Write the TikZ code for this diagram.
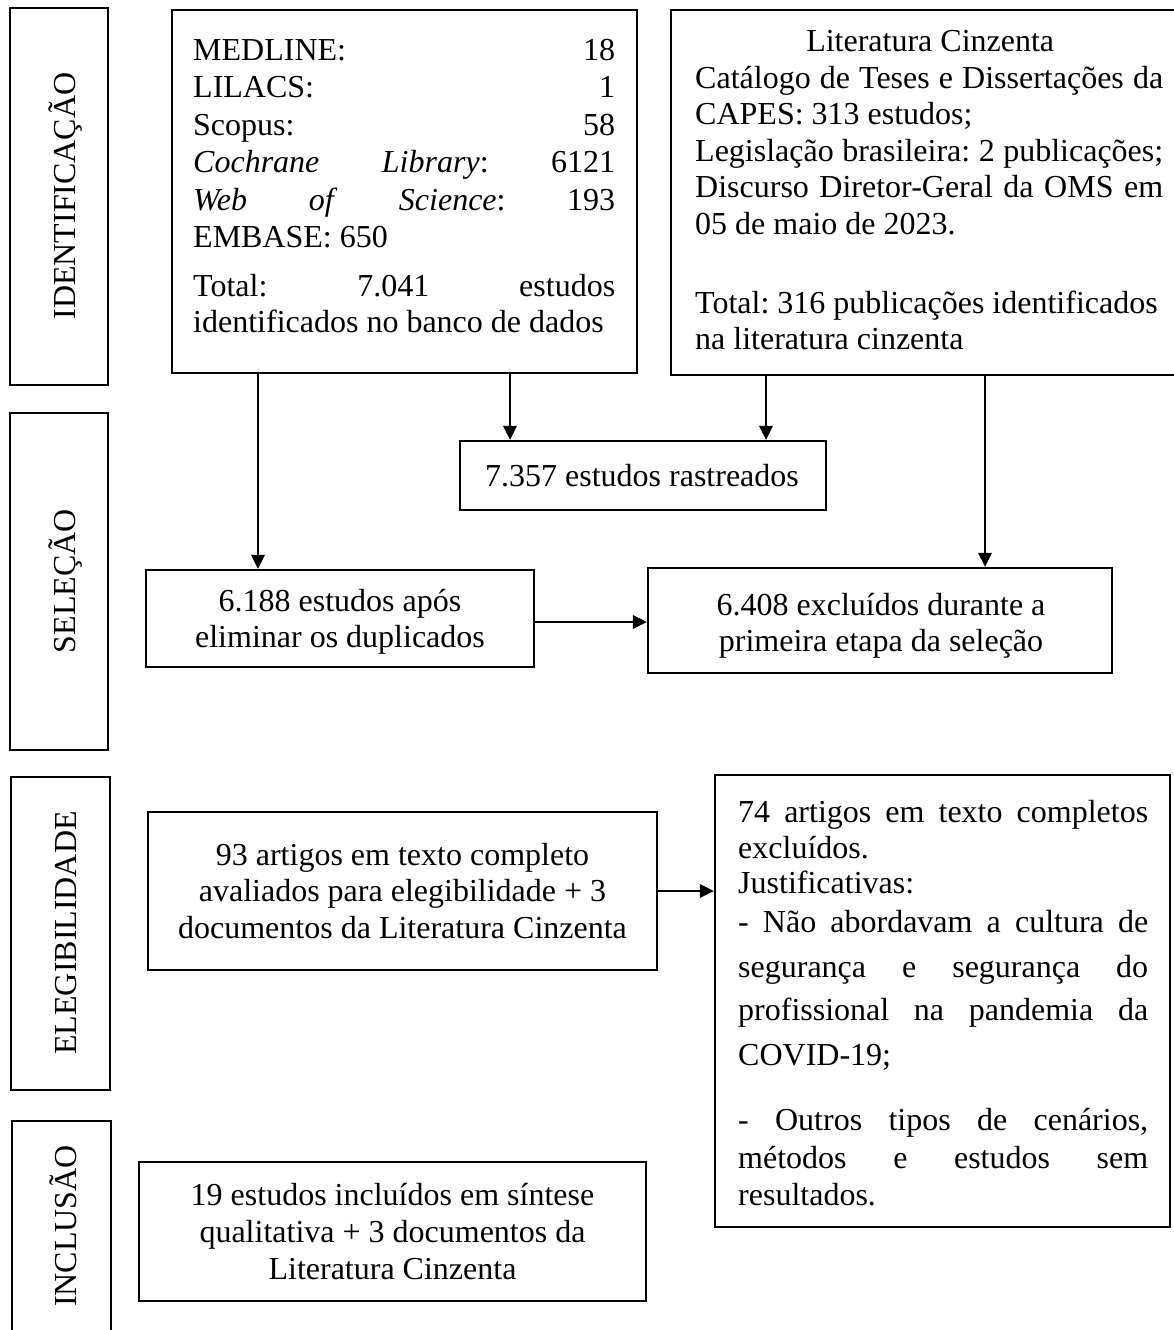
\documentclass[tikz,border=0pt]{standalone}
\usepackage{fontspec}
\setmainfont{Liberation Serif}
\usetikzlibrary{arrows.meta,calc}
\frenchspacing
\newcommand{\jline}[2]{\makebox[#1][s]{\spaceskip=0.25em plus 1fil\xspaceskip=0.25em plus 1fil\relax #2}}
\begin{document}
\begin{tikzpicture}[x=1pt,y=-1pt,
  box/.style={draw, line width=2.1pt, inner sep=0pt, rectangle},
  arr/.style={line width=2.8pt, -{Triangle[length=14pt,width=13pt]}},
  txt/.style={inner sep=0pt, font=\fontsize{32}{37.5}\selectfont},
  ctxt/.style={txt, anchor=base, text width=520pt, align=flush center},
  ltxt/.style={txt, anchor=base west, align=flush left},
  lab/.style={inner sep=0pt, font=\fontsize{32}{37.5}\selectfont, rotate=90, anchor=base}]
\useasboundingbox (0,0) rectangle (1174,1330);

% stage boxes
\node[box, minimum width=98pt, minimum height=377pt] (sid) at (59,196.5) {};
\node[box, minimum width=98pt, minimum height=337pt] (ssel) at (59,581.5) {};
\node[box, minimum width=99pt, minimum height=313pt] (seleg) at (60.5,933.5) {};
\node[box, minimum width=99pt, minimum height=220pt] (sinc) at (61.5,1231) {};
\node[lab] (lid) at (75,196) {IDENTIFICAÇÃO};
\node[lab] (lsel) at (75,581) {SELEÇÃO};
\node[lab] (leleg) at (76,933) {ELEGIBILIDADE};
\node[lab] (linc) at (76,1226) {INCLUSÃO};

% flow boxes
\node[box, minimum width=465pt, minimum height=363pt] (db) at (404.5,191.5) {};
\node[box, minimum width=510pt, minimum height=365pt] (grey) at (926,192.5) {};
\node[box, minimum width=366pt, minimum height=69pt] (b7357) at (643,475.5) {};
\node[box, minimum width=388pt, minimum height=97pt] (b6188) at (340,618.5) {};
\node[box, minimum width=464pt, minimum height=105pt] (b6408) at (880,620.5) {};
\node[box, minimum width=509pt, minimum height=158pt] (b93) at (402.5,891) {};
\node[box, minimum width=455pt, minimum height=452pt] (b74) at (942.5,1001) {};
\node[box, minimum width=507pt, minimum height=139pt] (b19) at (392.5,1231.5) {};

% texts
\node[ltxt, text width=440pt] (tdb) at (193,60) {%
\jline{422pt}{MEDLINE:\hfill 18}\\
\jline{422pt}{LILACS:\hfill 1}\\
\jline{422pt}{Scopus:\hfill 58}\\
\jline{422pt}{\textit{Cochrane}\hfill\textit{Library}:\hfill 6121}\\
\jline{422pt}{\textit{Web}\hfill\textit{of}\hfill\textit{Science}:\hfill 193}\\
EMBASE: 650\\[11.5pt]
\jline{422pt}{Total:\hfill 7.041\hfill estudos}\\[-1.5pt]
identificados no banco de dados};

\node[ltxt, text width=500pt, font=\fontsize{32}{36.5}\selectfont] (tgrey) at (695,52) {%
\makebox[470pt]{Literatura Cinzenta}\\
\jline{468pt}{Catálogo de Teses e Dissertações da}\\
CAPES: 313 estudos;\\
\jline{468pt}{Legislação brasileira: 2 publicações;}\\
\jline{468pt}{Discurso Diretor-Geral da OMS em}\\
05 de maio de 2023.\\[42.5pt]
Total: 316 publicações identificados\\
na literatura cinzenta};

\node[ctxt] (t7357) at (642,486) {7.357 estudos rastreados};
\node[ctxt, font=\fontsize{32}{36}\selectfont] (t6188) at (340,611) {6.188 estudos após\\eliminar os duplicados};
\node[ctxt, font=\fontsize{32}{36}\selectfont] (t6408) at (881,615) {6.408 excluídos durante a\\primeira etapa da seleção};
\node[ctxt, font=\fontsize{32}{36.5}\selectfont] (t93) at (402.5,865) {93 artigos em texto completo\\avaliados para elegibilidade + 3\\documentos da Literatura Cinzenta};
\node[ctxt, font=\fontsize{32}{37}\selectfont] (t19) at (392.5,1205) {19 estudos incluídos em síntese\\qualitativa + 3 documentos da\\Literatura Cinzenta};

\node[ltxt, text width=430pt] (t74) at (738,822) {%
\jline{410pt}{74 artigos em texto completos}\\[-1.5pt]
excluídos.\\[-2.5pt]
Justificativas:\\[1.5pt]
\jline{410pt}{- Não abordavam a cultura de}\\[7.5pt]
\jline{410pt}{segurança e segurança do}\\[5.5pt]
\jline{410pt}{profissional na pandemia da}\\[7.5pt]
COVID-19;\\[27.5pt]
\jline{410pt}{- Outros tipos de cenários,}\\[0.5pt]
\jline{410pt}{métodos e estudos sem}\\[-0.5pt]
resultados.};

% connectors
\coordinate (xa) at (258,0);
\coordinate (xb) at (510,0);
\coordinate (xc) at (766,0);
\coordinate (xd) at (985,0);
\coordinate (ya) at (0,622);
\draw[arr] (db.south -| xa) -- (b6188.north -| xa);
\draw[arr] (db.south -| xb) -- (b7357.north -| xb);
\draw[arr] (grey.south -| xc) -- (b7357.north -| xc);
\draw[arr] (grey.south -| xd) -- (b6408.north -| xd);
\draw[arr] (b6188.east |- ya) -- (b6408.west |- ya);
\draw[arr] (b93.east) -- (b74.west |- b93.east);
\end{tikzpicture}
\end{document}
